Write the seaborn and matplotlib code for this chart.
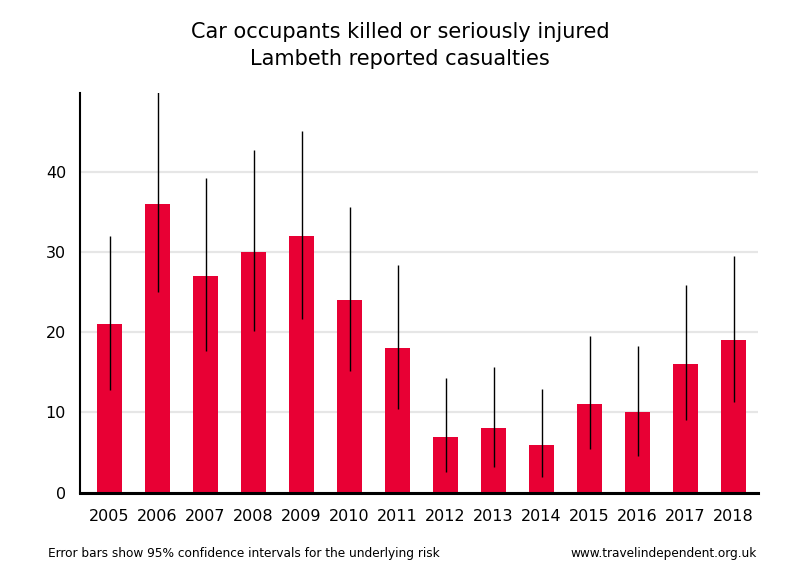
import numpy as np
import pandas as pd
import matplotlib.pyplot as plt
import seaborn as sns

# Data
years = ['2005', '2006', '2007', '2008', '2009', '2010', '2011',
         '2012', '2013', '2014', '2015', '2016', '2017', '2018']
casualties = [21, 36, 27, 30, 32, 24, 18, 7, 8, 6, 11, 10, 16, 19]
ci_low = [12.8, 25.0, 17.7, 20.1, 21.6, 15.2, 10.4, 2.6, 3.2, 2.0, 5.4, 4.6, 9.0, 11.3]
ci_high = [32.0, 51.0, 39.2, 42.7, 45.1, 35.6, 28.4, 14.3, 15.7, 12.9, 19.5, 18.3, 25.9, 29.5]

df = pd.DataFrame({'year': years, 'casualties': casualties})

sns.set_style("white")
plt.rcParams['font.family'] = ['DejaVu Sans']
plt.rcParams['text.color'] = 'black'
plt.rcParams['xtick.color'] = 'black'
plt.rcParams['ytick.color'] = 'black'

fig = plt.figure(figsize=(8, 5.8), dpi=100)
ax = fig.add_axes([0.1, 0.1505, 0.8475, 0.6892])

sns.barplot(data=df, x='year', y='casualties', color='#E80034',
            width=0.52, saturation=1, linewidth=0, ax=ax, zorder=2)

# error bars as plain vertical lines, no caps
vals = np.array(casualties)
yerr = [vals - np.array(ci_low), np.array(ci_high) - vals]
ax.errorbar(np.arange(len(years)), vals, yerr=yerr, fmt='none',
            ecolor='black', elinewidth=1.0, capsize=0, zorder=3)

ax.set_ylim(0, 49.8)
ax.set_xlim(-0.615, 13.51)
ax.set_yticks([0, 10, 20, 30, 40])
ax.yaxis.grid(True, color='#E6E6E6', linewidth=1.6, zorder=0)
ax.set_axisbelow(True)

for side in ['top', 'right']:
    ax.spines[side].set_visible(False)
ax.spines['left'].set_linewidth(1.5)
ax.spines['left'].set_color('black')
ax.spines['bottom'].set_linewidth(2.2)
ax.spines['bottom'].set_color('black')

ax.tick_params(axis='y', length=6, width=1.5, color='#E6E6E6',
               labelcolor='black', labelsize=11.5, pad=4)
ax.tick_params(axis='x', length=0, labelcolor='black', labelsize=11.5, pad=12)
ax.set_xlabel('')
ax.set_ylabel('')

fig.text(0.5, 0.922, 'Car occupants killed or seriously injured\nLambeth reported casualties',
         ha='center', va='center', fontsize=15, linespacing=1.45, color='black')
fig.text(0.06, 0.046, 'Error bars show 95% confidence intervals for the underlying risk',
         ha='left', va='center', fontsize=8.7, color='black')
fig.text(0.946, 0.046, 'www.travelindependent.org.uk',
         ha='right', va='center', fontsize=8.7, color='black')

fig.savefig('out.png', dpi=100)
